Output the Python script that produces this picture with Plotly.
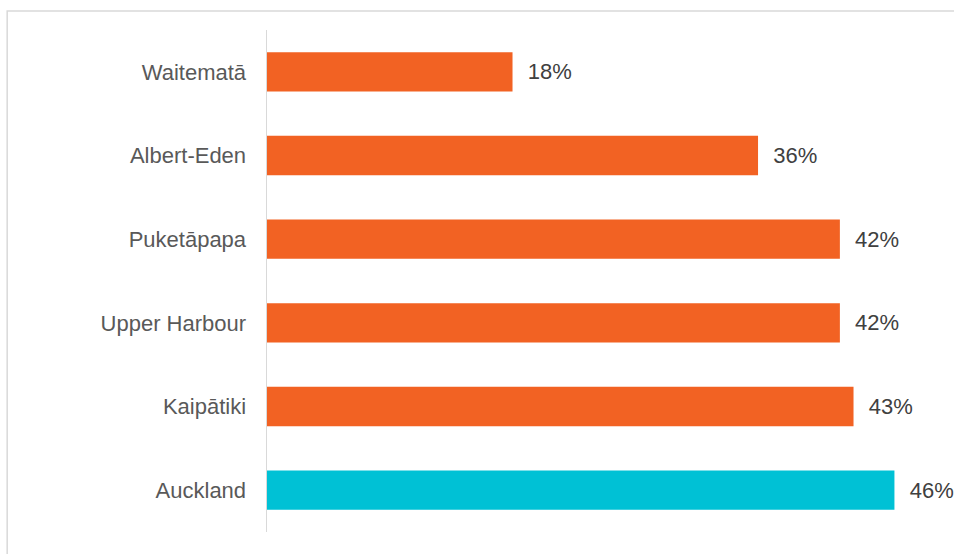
import plotly.graph_objects as go

categories = ["Waitematā", "Albert-Eden", "Puketāpapa", "Upper Harbour", "Kaipātiki", "Auckland"]
values = [18, 36, 42, 42, 43, 46]
bar_colors = ["#F26223", "#F26223", "#F26223", "#F26223", "#F26223", "#00C1D5"]

fig = go.Figure(go.Bar(
    x=values,
    y=categories,
    orientation="h",
    marker=dict(color=bar_colors, line=dict(width=0)),
    text=[f"{v}%" for v in values],
    texttemplate="  %{text}",
    textposition="outside",
    cliponaxis=False,
    textfont=dict(family="Liberation Sans, Arial, sans-serif", size=22, color="#404040"),
    hoverinfo="skip",
))

fig.update_layout(
    width=954,
    height=554,
    margin=dict(l=267, r=4.5, t=30, b=22),
    paper_bgcolor="white",
    plot_bgcolor="white",
    showlegend=False,
    bargap=0.53,
    font=dict(family="Liberation Sans, Arial, sans-serif", size=22, color="#595959"),
    xaxis=dict(range=[0, 50], visible=False, fixedrange=True),
    yaxis=dict(
        autorange="reversed",
        showline=True,
        linecolor="#D9D9D9",
        linewidth=1.5,
        showgrid=False,
        ticks="",
        ticklabelstandoff=15,
        fixedrange=True,
        tickfont=dict(size=22, color="#595959"),
    ),
    shapes=[
        dict(
            type="rect", xref="paper", yref="paper",
            x0=(7 - 267) / 682.5, x1=1.2,
            y0=-0.2, y1=1 + (30 - 11) / 502,
            line=dict(color="#D9D9D9", width=1.5),
            fillcolor="rgba(0,0,0,0)",
            layer="below",
        )
    ],
)

fig.write_html(
    "out.html",
    config={"displayModeBar": False, "staticPlot": True},
    post_script="document.body.style.margin='0';document.body.style.overflow='hidden';",
)
